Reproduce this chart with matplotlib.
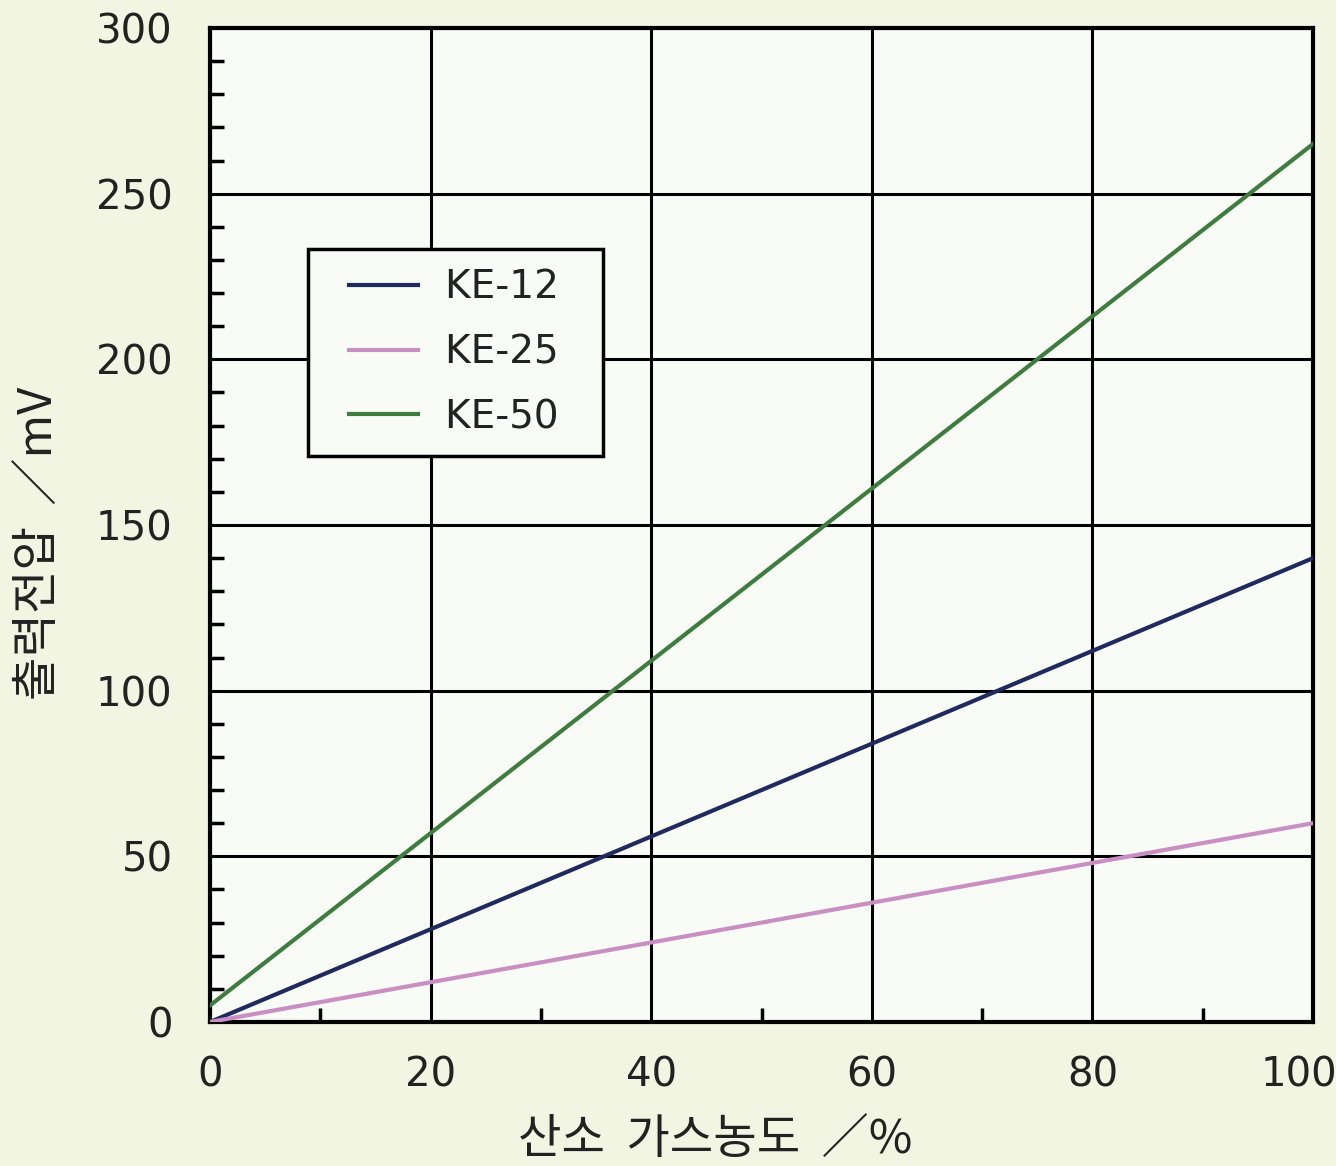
import numpy as np
import matplotlib as mpl
mpl.use('Agg')
import matplotlib.pyplot as plt
from matplotlib.ticker import MultipleLocator, FuncFormatter
from matplotlib.lines import Line2D
from matplotlib.legend_handler import HandlerLine2D

plt.rcParams['font.family'] = ['DejaVu Sans', 'Noto Sans CJK KR']
kr_font = ['Noto Sans CJK KR', 'DejaVu Sans']

# data (output voltage vs oxygen concentration)
conc = [0, 100]
series_names = ['KE-12', 'KE-25', 'KE-50']
ke12 = [0, 140]
ke25 = [0, 60]
ke50 = [5, 265]
colors = ['#1f2a5e', '#c98fc2', '#3e7d3e']
x_max = 100
y_max = 300

fig = plt.figure(figsize=(13.36, 11.66), dpi=100, facecolor='#f2f5e1')
ax = fig.add_axes([0.1572, 0.1235, 0.8256, 0.8525])
ax.set_facecolor('#f9fbf6')

for vals, name, c in zip([ke12, ke25, ke50], series_names, colors):
    ax.plot(conc, vals, color=c, lw=3.0, label=name + '  ', zorder=3)

ax.set_xlim(0, x_max)
ax.set_ylim(0, y_max)
ax.xaxis.set_major_locator(MultipleLocator(20))
ax.yaxis.set_major_locator(MultipleLocator(50))
ax.xaxis.set_minor_locator(MultipleLocator(10))
ax.yaxis.set_minor_locator(MultipleLocator(10))
# the last x label is drawn separately, shifted left so it stays on the canvas
ax.xaxis.set_major_formatter(FuncFormatter(lambda v, p: '' if v >= x_max else '%d' % v))
ax.grid(True, which='major', color='black', lw=2.2, zorder=1)
ax.tick_params(which='major', length=0, labelsize=29, labelcolor='#222222')
ax.tick_params(axis='y', which='major', pad=27)
ax.tick_params(axis='x', which='major', pad=24)
ax.tick_params(which='minor', direction='in', length=10, width=2.5, color='black')
for s in ax.spines.values():
    s.set_linewidth(3)
    s.set_color('black')
ax.annotate('%d' % x_max, xy=(x_max, 0), xycoords='data', xytext=(-10, -24),
            textcoords='offset points', ha='center', va='top', fontsize=29,
            color='#222222', annotation_clip=False)

ax.set_xlabel('산소  가스농도  ／%', fontsize=34, color='#222222', family=kr_font,
              va='center')
ax.xaxis.set_label_coords(0.458, -0.119)
ax.set_ylabel('출력전압  ／mV', fontsize=34, color='#222222', family=kr_font,
              va='center')
ax.yaxis.set_label_coords(-0.154, 0.482)

leg = ax.legend(loc='upper left', bbox_to_anchor=(0.0888, 0.7777), borderaxespad=0,
                fontsize=28, frameon=True, fancybox=False, edgecolor='black',
                facecolor='#f9fbf6', framealpha=1, handlelength=2.33,
                handletextpad=0.7, borderpad=0.5, labelspacing=0.69,
                handler_map={Line2D: HandlerLine2D(xpad=0.56)})
leg.get_frame().set_linewidth(2.5)
leg.set_zorder(5)
for t in leg.get_texts():
    t.set_color('#222222')

fig.savefig('out.png', dpi=100, facecolor=fig.get_facecolor())
plt.close()
